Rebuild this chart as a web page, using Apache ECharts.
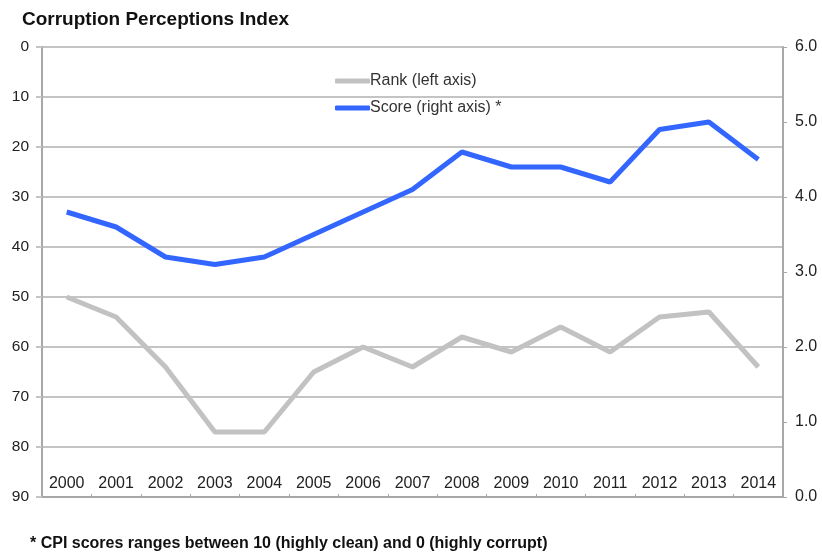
<!DOCTYPE html>
<html>
<head>
<meta charset="utf-8">
<script src="https://cdn.jsdelivr.net/npm/echarts@6/dist/echarts.min.js"></script>
<style>
html,body{margin:0;padding:0;background:#fff;}
#chart{width:822px;height:552px;}
</style>
</head>
<body>
<div id="chart"></div>
<script>
const years = ['2000','2001','2002','2003','2004','2005','2006','2007','2008','2009','2010','2011','2012','2013','2014'];
const rank = [50, 54, 64, 77, 77, 65, 60, 64, 58, 61, 56, 61, 54, 53, 64];
const score = [3.8, 3.6, 3.2, 3.1, 3.2, 3.5, 3.8, 4.1, 4.6, 4.4, 4.4, 4.2, 4.9, 5.0, 4.5];
const titleText = 'Corruption Perceptions Index';
const footnote = '* CPI scores ranges between 10 (highly clean) and 0 (highly corrupt)';

const font = '"Liberation Sans", Arial, Helvetica, sans-serif';
const chart = echarts.init(document.getElementById('chart'));
chart.setOption({
  animation: false,
  backgroundColor: '#fff',
  textStyle: { fontFamily: font },
  title: [
    { text: titleText, left: 17, top: 5, textStyle: { fontFamily: font, fontSize: 19, fontWeight: 'bold', color: '#111' } },
    { text: footnote, left: 25, top: 531, textStyle: { fontFamily: font, fontSize: 16, fontWeight: 'bold', color: '#111' } }
  ],
  legend: {
    orient: 'vertical', left: 330, top: 68, itemGap: 11,
    itemWidth: 35, itemHeight: 5, icon: 'roundRect',
    textStyle: { fontFamily: font, fontSize: 16, color: '#333', padding: [0,0,0,-5] },
    data: ['Rank (left axis)', 'Score (right axis) *']
  },
  grid: { left: 42, right: 39, top: 47, bottom: 55, containLabel: false },
  xAxis: {
    type: 'category', data: years, boundaryGap: true,
    axisLine: { onZero: false, lineStyle: { color: '#a8a8a8', width: 2 } },
    axisTick: { show: true, inside: true, length: 3, lineStyle: { color: '#a8a8a8' } },
    axisLabel: { inside: true, margin: 5, fontSize: 16, color: '#222', fontFamily: font }
  },
  yAxis: [
    {
      type: 'value', inverse: true, min: 0, max: 90, interval: 10, position: 'left',
      axisLine: { show: true, lineStyle: { color: '#a8a8a8', width: 2 } },
      axisTick: { show: true, length: 6, lineStyle: { color: '#c4c4c4', width: 2 } },
      axisLabel: { fontSize: 15.5, color: '#222', margin: 13, fontFamily: font },
      splitLine: { show: true, lineStyle: { color: '#c4c4c4', width: 2 } }
    },
    {
      type: 'value', min: 0, max: 6, interval: 1, position: 'right',
      axisLine: { show: true, lineStyle: { color: '#a8a8a8', width: 2 } },
      axisTick: { show: true, length: 4, lineStyle: { color: '#a8a8a8' } },
      axisLabel: { fontSize: 16, color: '#222', margin: 12, fontFamily: font, formatter: v => v.toFixed(1) },
      splitLine: { show: false }
    }
  ],
  series: [
    {
      name: 'Rank (left axis)', type: 'line', yAxisIndex: 0, data: rank,
      symbol: 'none', color: '#c2c2c2',
      lineStyle: { width: 5, color: '#c2c2c2' }
    },
    {
      name: 'Score (right axis) *', type: 'line', yAxisIndex: 1, data: score,
      symbol: 'none', color: '#3366ff',
      lineStyle: { width: 5, color: '#3366ff' }
    }
  ]
});
</script>
</body>
</html>
